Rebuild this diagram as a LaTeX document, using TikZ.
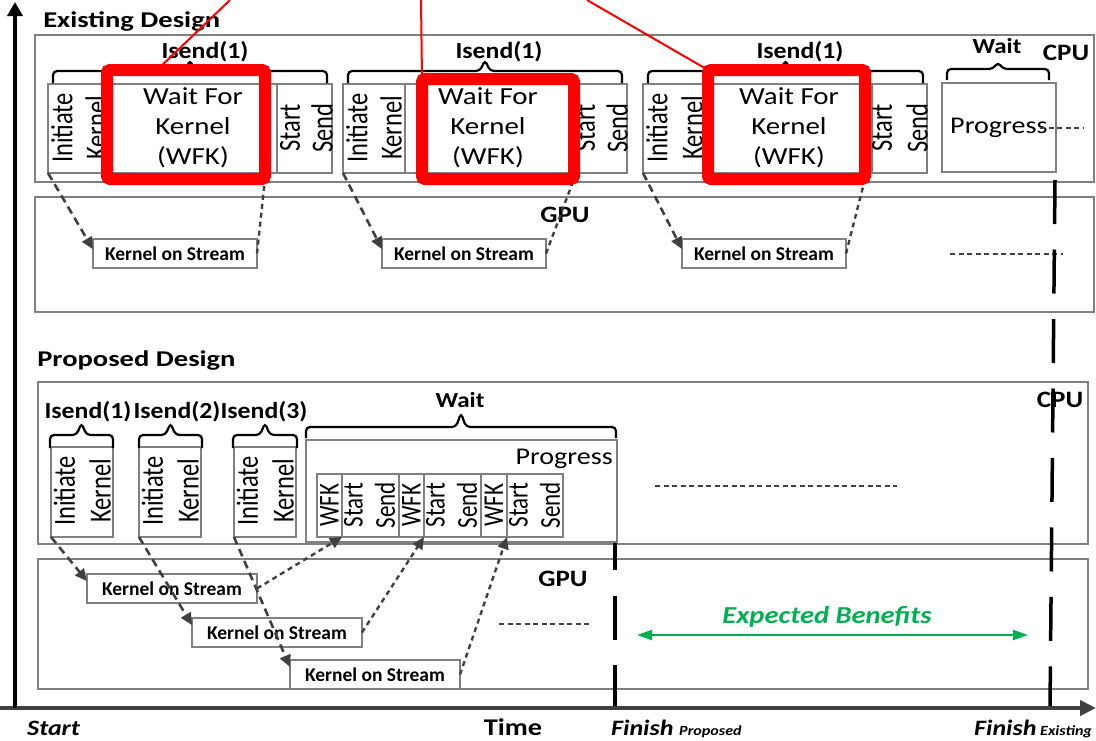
\documentclass[tikz,border=0pt]{standalone}
\usepackage{fontspec}
\setmainfont{Carlito}
\usepackage{tikz}
\usetikzlibrary{
    arrows.meta,
    calc,
    positioning
}

\definecolor{framegray}{RGB}{128,128,128}
\definecolor{linkgray}{RGB}{64,64,64}
\definecolor{benefitgreen}{RGB}{0,176,80}

% bracket over a group: x1, x2, y of the ends, y of the bar, y of the tip
\newcommand{\grpbrace}[5]{%
    \draw[grpline] (#1,#3) -- (#1,#4) -- ({(#1+#2)/2-5},#4) -- ({(#1+#2)/2},#5)
        -- ({(#1+#2)/2+5},#4) -- (#2,#4) -- (#2,#3);%
}

\tikzset{
    lane/.style={draw=framegray, line width=1.3pt},
    cell/.style={draw=framegray, line width=1.3pt, minimum height=89, inner sep=0pt, outer sep=0pt, anchor=north west},
    wfkframe/.style={draw=red, line width=12pt, rounded corners=3pt, inner sep=0pt, outer sep=0pt, anchor=north west},
    kos/.style={draw=framegray, fill=white, line width=1.3pt, minimum width=164, minimum height=29,
        inner sep=0pt, outer sep=0pt, anchor=north west, font=\bfseries\fontsize{19.5}{22}\selectfont},
    vtxt/.style={font=\fontsize{24.5}{28}\selectfont, inner sep=0pt, xscale=1.25, rotate=90},
    vtxts/.style={font=\fontsize{23}{26}\selectfont, inner sep=0pt, xscale=1.25, rotate=90},
    wfktxt/.style={font=\fontsize{24.5}{30}\selectfont, align=center, inner sep=0pt, xscale=1.18},
    progtxt/.style={font=\fontsize{24}{28}\selectfont, inner sep=0pt, xscale=1.17},
    grpline/.style={draw=black, line width=2.2pt, rounded corners=4pt},
    grplbl/.style={font=\bfseries\fontsize{23}{26}\selectfont, inner sep=0pt, xscale=1.12, anchor=base},
    waitlbl/.style={font=\bfseries\fontsize{21.5}{24}\selectfont, inner sep=0pt, xscale=1.16, anchor=base},
    unitlbl/.style={font=\bfseries\fontsize{23.5}{26}\selectfont, inner sep=0pt, xscale=1.15, anchor=base},
    design/.style={font=\bfseries\fontsize{22.5}{26}\selectfont, inner sep=0pt, xscale=1.27, anchor=base west},
    benefit/.style={font=\bfseries\itshape\fontsize{24.4}{28}\selectfont, text=benefitgreen,
        inner sep=0pt, xscale=1.17, anchor=base},
    axislbl/.style={font=\bfseries\itshape\fontsize{22}{26}\selectfont, inner sep=0pt, xscale=1.18, anchor=base west},
    sublbl/.style={font=\bfseries\itshape\fontsize{14}{16}\selectfont, inner sep=0pt, xscale=1.15, anchor=base west},
    feed/.style={draw=linkgray, line width=2.6pt, dash pattern=on 8pt off 5pt,
        -{Triangle[length=12pt,width=11pt]}},
    retline/.style={draw=linkgray, line width=2.4pt, dash pattern=on 5pt off 4pt},
    retarrow/.style={retline, -{Triangle[length=12pt,width=11pt]}},
    moredots/.style={draw=linkgray, line width=2pt, dash pattern=on 5pt off 3.5pt},
    pointline/.style={draw=red, line width=2pt},
    finline/.style={draw=black, line width=3.5pt, dash pattern=on 44pt off 25.5pt},
    gainarrow/.style={draw=benefitgreen, line width=2pt,
        {Triangle[length=15pt,width=10pt]}-{Triangle[length=15pt,width=10pt]}},
    timeaxis/.style={draw=linkgray, line width=4.5pt, -{Triangle[length=16pt,width=15pt]}},
    vaxis/.style={draw=black, line width=4pt, -{Triangle[length=14pt,width=15pt]}}
}

\begin{document}
\begin{tikzpicture}[x=1pt, y=-1pt]
\useasboundingbox (0,0) rectangle (1096,740);

% lanes
\draw[lane] (35,35) rectangle (1094,182);
\draw[lane] (35,197) rectangle (1094,312);
\draw[lane] (38,382) rectangle (1088,544);
\draw[lane] (38,559) rectangle (1088,689);

\node[design] (extitle) at (43,27) {Existing Design};
\node[design] (protitle) at (37,366) {Proposed Design};
\node[unitlbl] (ecpu) at (1066,60) {CPU};
\node[unitlbl] (egpu) at (565,222) {GPU};
\node[unitlbl] (pcpu) at (1060,407) {CPU};
\node[unitlbl] (pgpu) at (563,586) {GPU};

% existing design, cpu side
\node[cell, minimum width=62] (ei1) at (48,84) {};
\node[cell, minimum width=167] (ew1) at (110,84) {};
\node[cell, minimum width=55] (es1) at (277,84) {};
\node[vtxt] (eti1) at (62,128) {Initiate};
\node[vtxt] (etk1) at (96,128) {Kernel};
\node[wfktxt] (etw1) at (193,128) {Wait For\\Kernel\\(WFK)};
\node[vtxt] (ets1) at (290,128) {Start};
\node[vtxt] (etn1) at (322,128) {Send};

\node[cell, minimum width=62] (ei2) at (343,84) {};
\node[cell, minimum width=167] (ew2) at (405,84) {};
\node[cell, minimum width=55] (es2) at (572,84) {};
\node[vtxt] (eti2) at (357,128) {Initiate};
\node[vtxt] (etk2) at (391,128) {Kernel};
\node[wfktxt] (etw2) at (488,128) {Wait For\\Kernel\\(WFK)};
\node[vtxt] (ets2) at (585,128) {Start};
\node[vtxt] (etn2) at (617,128) {Send};

\node[cell, minimum width=62] (ei3) at (643,84) {};
\node[cell, minimum width=167] (ew3) at (705,84) {};
\node[cell, minimum width=55] (es3) at (872,84) {};
\node[vtxt] (eti3) at (657,128) {Initiate};
\node[vtxt] (etk3) at (692,128) {Kernel};
\node[wfktxt] (etw3) at (789,128) {Wait For\\Kernel\\(WFK)};
\node[vtxt] (ets3) at (882,128) {Start};
\node[vtxt] (etn3) at (917,128) {Send};

\node[cell, minimum width=114] (eprog) at (942,83) {};
\node[progtxt, anchor=base west] (eprogt) at (950,133) {Progress};

\grpbrace{53}{327}{83}{71}{60}
\grpbrace{348}{622}{83}{71}{60}
\grpbrace{648}{923}{83}{71}{60}
\grpbrace{947}{1049}{80}{69}{62}
\node[grplbl] (eis1) at (205,58) {Isend(1)};
\node[grplbl] (eis2) at (499,58) {Isend(1)};
\node[grplbl] (eis3) at (800,58) {Isend(1)};
\node[waitlbl] (ewait) at (997,53) {Wait};

% the WFK steps in red
\node[wfkframe, minimum width=158, minimum height=109] (red1) at (107,70) {};
\node[wfkframe, minimum width=152, minimum height=100] (red2) at (422,79) {};
\node[wfkframe, minimum width=157, minimum height=109] (red3) at (708,70) {};
\coordinate (callA) at (230,0);
\coordinate (callB) at (421,0);
\coordinate (callC) at (587,0);
\draw[pointline] (callA) -- ($(red1.north west)+(50,0)$);
\draw[pointline] (callB) -- (red2.north west);
\draw[pointline] (callC) -- (red3.north west);

% existing design, gpu side
\node[kos] (ek1) at (93,239) {Kernel on Stream};
\node[kos] (ek2) at (382,239) {Kernel on Stream};
\node[kos] (ek3) at (682,239) {Kernel on Stream};
\draw[feed] (ei1.south west) -- (ek1.177);
\draw[feed] (ei2.south west) -- (ek2.177);
\draw[feed] (ei3.south west) -- (ek3.177);
\draw[retline, shorten >=6pt] (ek1.east) -- (red1.south east);
\draw[retline, shorten >=6pt] (ek2.east) -- (red2.south east);
\draw[retline, shorten >=6pt] (ek3.east) -- (red3.south east);

\coordinate (emoreA) at (1040,128);
\coordinate (emoreB) at (1083,128);
\coordinate (gmoreA) at (950,254);
\coordinate (gmoreB) at (1063,254);
\draw[moredots] (emoreA) -- (emoreB);
\draw[moredots] (gmoreA) -- (gmoreB);

% proposed design, cpu side
\node[cell, minimum width=62, minimum height=90] (pi1) at (51,447) {};
\node[cell, minimum width=62, minimum height=90] (pi2) at (139,447) {};
\node[cell, minimum width=62, minimum height=90] (pi3) at (234,447) {};
\node[vtxt] (pti1) at (64.5,491) {Initiate};
\node[vtxt] (ptk1) at (100,491) {Kernel};
\node[vtxt] (pti2) at (152.5,491) {Initiate};
\node[vtxt] (ptk2) at (188,491) {Kernel};
\node[vtxt] (pti3) at (247.5,491) {Initiate};
\node[vtxt] (ptk3) at (283,491) {Kernel};

\grpbrace{50}{113}{448}{435}{423}
\grpbrace{139}{202}{448}{435}{423}
\grpbrace{233}{297}{448}{435}{423}
\node[grplbl] (pis1) at (88,418) {Isend(1)};
\node[grplbl] (pis2) at (177,418) {Isend(2)};
\node[grplbl] (pis3) at (264,418) {Isend(3)};

\node[cell, minimum width=311, minimum height=102] (pprog) at (306,440) {};
\node[progtxt, anchor=base east] (pprogt) at (613,464) {Progress};
\grpbrace{306}{616}{438}{427}{413}
\node[waitlbl] (pwait) at (460,407) {Wait};

\node[cell, minimum width=25, minimum height=63] (pw1) at (317,474) {};
\node[cell, minimum width=57, minimum height=63] (ps1) at (342,474) {};
\node[cell, minimum width=25, minimum height=63] (pw2) at (399,474) {};
\node[cell, minimum width=57, minimum height=63] (ps2) at (424,474) {};
\node[cell, minimum width=26, minimum height=63] (pw3) at (481,474) {};
\node[cell, minimum width=56, minimum height=63] (ps3) at (507,474) {};
\node[vtxts] (ptw1) at (329.5,505) {WFK};
\node[vtxts] (pts1) at (353.5,505) {Start};
\node[vtxts] (ptn1) at (385,505) {Send};
\node[vtxts] (ptw2) at (411.5,505) {WFK};
\node[vtxts] (pts2) at (435.5,505) {Start};
\node[vtxts] (ptn2) at (467,505) {Send};
\node[vtxts] (ptw3) at (494,505) {WFK};
\node[vtxts] (pts3) at (518.5,505) {Start};
\node[vtxts] (ptn3) at (550,505) {Send};

% proposed design, gpu side
\node[kos, minimum width=170] (pk1) at (87,574) {Kernel on Stream};
\node[kos, minimum width=170] (pk2) at (192,618) {Kernel on Stream};
\node[kos, minimum width=170] (pk3) at (290,660) {Kernel on Stream};
\draw[feed] (pi1.south west) -- (pk1.175);
\draw[feed] (pi2.south west) -- (pk2.175);
\draw[feed] (pi3.south west) -- (pk3.175);
\draw[retarrow] (pk1.east) -- (pw1.south east);
\draw[retarrow] (pk2.east) -- (pw2.south east);
\draw[retarrow] (pk3.east) -- (pw3.south east);

\coordinate (pmoreA) at (655,486);
\coordinate (pmoreB) at (897,486);
\coordinate (qmoreA) at (499,624);
\coordinate (qmoreB) at (592,624);
\draw[moredots] (pmoreA) -- (pmoreB);
\draw[moredots] (qmoreA) -- (qmoreB);

% benefit
\node[benefit] (gain) at (827,623) {Expected Benefits};
\coordinate (gainL) at (637,635);
\coordinate (gainR) at (1028,635);
\draw[gainarrow] (gainL) -- (gainR);

% finish marks
\coordinate (finPtop) at (615,543);
\coordinate (finPbot) at (615,708);
\coordinate (finEtop) at (1055,180);
\coordinate (finEbot) at (1050,708);
\draw[finline, dash phase=17pt] (finPtop) -- (finPbot);
\draw[finline] (finEtop) -- (finEbot);

% axes
\coordinate (orig) at (15,708);
\coordinate (xleft) at (0,708);
\coordinate (xright) at (1096,708);
\coordinate (ytop) at (15,2);
\draw[timeaxis] (xleft) -- (xright);
\draw[vaxis] (orig) -- (ytop);

\node[axislbl] (tstart) at (27,735) {Start};
\node[axislbl, font=\bfseries\fontsize{24}{28}\selectfont, anchor=base] (ttime) at (513,735) {Time};
\node[axislbl] (tfinp) at (611,735) {Finish};
\node[sublbl] (tfinps) at (679,735) {Proposed};
\node[axislbl] (tfine) at (974,735) {Finish};
\node[sublbl] (tfines) at (1040,735) {Existing};
\end{tikzpicture}
\end{document}
